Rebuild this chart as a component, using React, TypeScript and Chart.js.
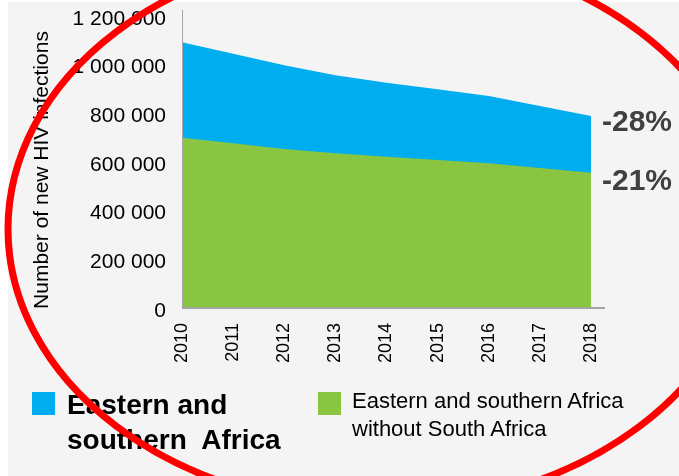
import React, { useEffect, useRef } from "react";
import { Chart, registerables } from "chart.js";

Chart.register(...registerables);

const years = ["2010", "2011", "2012", "2013", "2014", "2015", "2016", "2017", "2018"];
const esaValues = [1092000, 1045000, 998000, 957000, 926000, 899000, 871000, 830000, 789000];
const esaWithoutSAValues = [700000, 677000, 653000, 636000, 622000, 608000, 595000, 575000, 556000];
const yTickValues = [0, 200000, 400000, 600000, 800000, 1000000, 1200000];
const seriesNames = ["Eastern and southern Africa", "Eastern and southern Africa without South Africa"];
const changeLabels = ["-28%", "-21%"];
const yTitle = "Number of new HIV infections";

const BLUE = "#00AEEF";
const GREEN = "#8AC541";
const FONT = "'Liberation Sans', Arial, sans-serif";

function fmt(v: number): string {
  return String(v).replace(/\B(?=(\d{3})+(?!\d))/g, " ");
}

export default function App() {
  const ref = useRef<HTMLCanvasElement | null>(null);

  useEffect(() => {
    if (!ref.current) return;
    const overlay = {
      id: "overlay",
      afterDatasetsDraw(chart: any) {
        const { ctx, chartArea, scales } = chart;
        ctx.save();
        ctx.strokeStyle = "#a6a6a6";
        ctx.lineWidth = 1;
        ctx.beginPath();
        ctx.moveTo(chartArea.left + 0.5, chartArea.top - 6);
        ctx.lineTo(chartArea.left + 0.5, chartArea.bottom);
        ctx.stroke();
        ctx.lineWidth = 2;
        ctx.beginPath();
        ctx.moveTo(chartArea.left, chartArea.bottom);
        ctx.lineTo(chartArea.right + 14, chartArea.bottom);
        ctx.stroke();
        ctx.fillStyle = "#404040";
        ctx.font = `bold 30px ${FONT}`;
        ctx.textAlign = "left";
        ctx.textBaseline = "middle";
        const y = scales.y;
        const lastEsa = esaValues[esaValues.length - 1];
        const lastNoSA = esaWithoutSAValues[esaWithoutSAValues.length - 1];
        ctx.fillText(changeLabels[0], chartArea.right + 11, y.getPixelForValue(lastEsa) + 7);
        ctx.fillText(changeLabels[1], chartArea.right + 11, y.getPixelForValue(lastNoSA) + 9);
        // axis title
        ctx.fillStyle = "#000";
        ctx.font = `21px ${FONT}`;
        ctx.textAlign = "center";
        ctx.textBaseline = "middle";
        ctx.translate(42, (chartArea.top + chartArea.bottom) / 2 + 8);
        ctx.rotate(-Math.PI / 2);
        ctx.fillText(yTitle, 0, 0);
        ctx.restore();
      },
    };
    const chart = new Chart(ref.current, {
      type: "line",
      data: {
        labels: years,
        datasets: [
          {
            label: seriesNames[1],
            data: esaWithoutSAValues,
            backgroundColor: GREEN,
            borderColor: GREEN,
            borderWidth: 0,
            pointRadius: 0,
            fill: "origin",
            tension: 0,
          },
          {
            label: seriesNames[0],
            data: esaValues,
            backgroundColor: BLUE,
            borderColor: BLUE,
            borderWidth: 0,
            pointRadius: 0,
            fill: "origin",
            tension: 0,
          },
        ],
      },
      options: {
        responsive: false,
        animation: false,
        devicePixelRatio: 1,
        layout: { padding: { top: 16, right: 88, bottom: 108, left: 0 } },
        plugins: {
          legend: { display: false },
          tooltip: { enabled: false },
        },
        scales: {
          x: {
            type: "category",
            offset: false,
            grid: { display: false, drawTicks: false },
            border: { display: false },
            ticks: {
              color: "#000",
              font: { family: FONT, size: 18 },
              minRotation: 90,
              maxRotation: 90,
              padding: 15,
              autoSkip: false,
            },
            afterFit: (s: any) => {
              s.height = 60;
              s.paddingLeft = 0;
              s.paddingRight = 0;
            },
          },
          y: {
            min: 0,
            max: 1200000,
            grid: { display: false, drawTicks: false },
            border: { display: false },
            afterBuildTicks: (axis: any) => {
              axis.ticks = yTickValues.map((v) => ({ value: v }));
            },
            ticks: {
              color: "#000",
              font: { family: FONT, size: 21 },
              padding: 16,
              labelOffset: 3,
              callback: (v: any) => fmt(Number(v)),
            },
            title: { display: false },
            afterFit: (s: any) => {
              s.width = 182;
              s.paddingTop = 0;
              s.paddingBottom = 0;
            },
          },
        },
      },
      plugins: [overlay],
    });
    return () => chart.destroy();
  }, []);

  return (
    <div style={{ position: "absolute", left: 0, top: 0, width: 679, height: 476, background: "#fff", overflow: "hidden", fontFamily: FONT }}>
      <div style={{ position: "absolute", left: 8, top: 2, width: 671, height: 474, background: "#f4f4f4" }} />
      <canvas ref={ref} width={679} height={476} style={{ position: "absolute", left: 0, top: 0, width: 679, height: 476 }} />
      <div style={{ position: "absolute", left: 32, top: 392, width: 23, height: 23, background: BLUE }} />
      <div style={{ position: "absolute", left: 67, top: 387, fontSize: 28, lineHeight: "35px", fontWeight: "bold", color: "#000", whiteSpace: "pre" }}>
        {"Eastern and\nsouthern  Africa"}
      </div>
      <div style={{ position: "absolute", left: 318, top: 392, width: 23, height: 23, background: GREEN }} />
      <div style={{ position: "absolute", left: 352, top: 387, fontSize: 22, lineHeight: "28px", color: "#000", whiteSpace: "pre" }}>
        {"Eastern and southern Africa\nwithout South Africa"}
      </div>
      <svg width={679} height={476} style={{ position: "absolute", left: 0, top: 0, pointerEvents: "none" }}>
        <ellipse cx={378} cy={229} rx={370} ry={279} fill="none" stroke="#ff0000" strokeWidth={7} />
      </svg>
    </div>
  );
}
